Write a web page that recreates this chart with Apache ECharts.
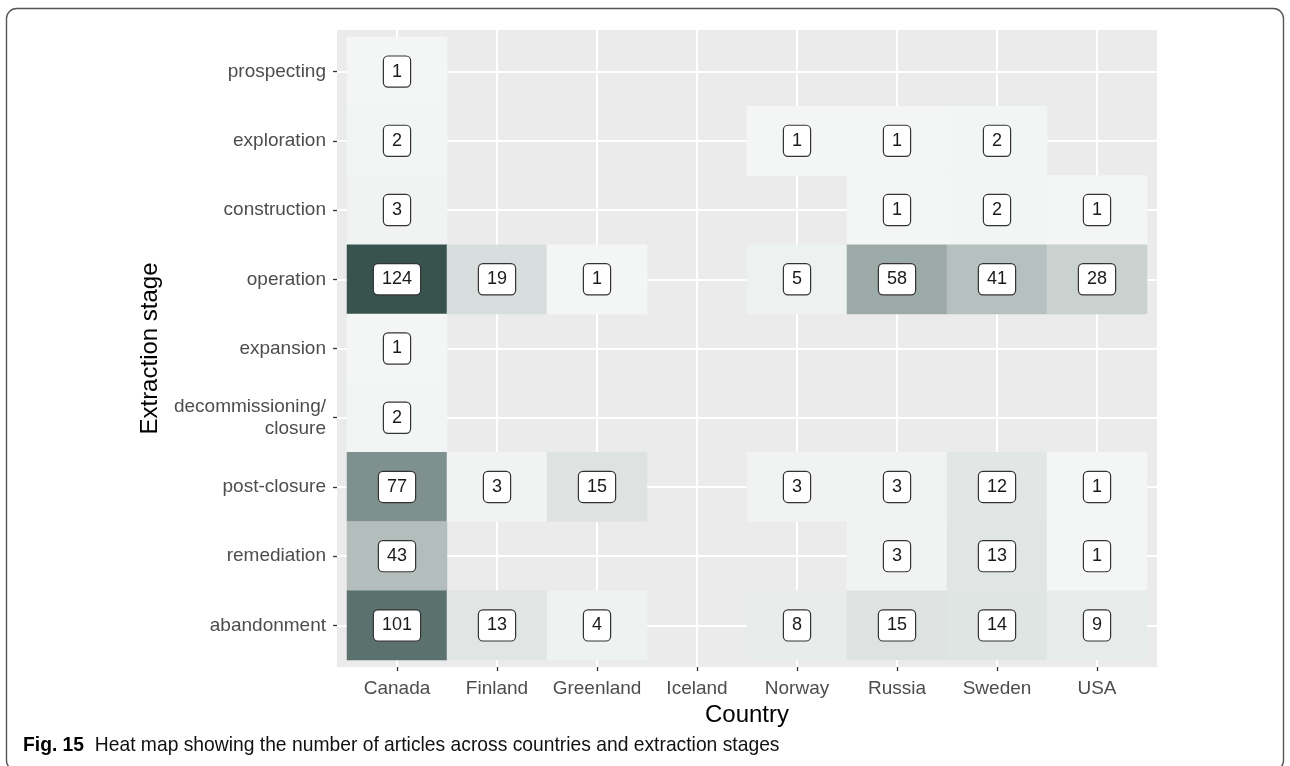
<!DOCTYPE html>
<html>
<head>
<meta charset="utf-8">
<script src="https://cdn.jsdelivr.net/npm/echarts@6/dist/echarts.min.js"></script>
<style>
html,body{margin:0;padding:0;background:#fff;}
#chart{width:1290px;height:766px;}
</style>
</head>
<body>
<div id="chart"></div>
<script>
// ---- data ----
const countries = ['Canada','Finland','Greenland','Iceland','Norway','Russia','Sweden','USA'];
const stages = ['prospecting','exploration','construction','operation','expansion','decommissioning/\nclosure','post-closure','remediation','abandonment'];
// values per country, in stage order (null = no articles)
const canada    = [1, 2, 3, 124, 1, 2, 77, 43, 101];
const finland   = [null, null, null, 19, null, null, 3, null, 13];
const greenland = [null, null, null, 1, null, null, 15, null, 4];
const iceland   = [null, null, null, null, null, null, null, null, null];
const norway    = [null, 1, null, 5, null, null, 3, null, 8];
const russia    = [null, 1, 1, 58, null, null, 3, 3, 15];
const sweden    = [null, 2, 2, 41, null, null, 12, 13, 14];
const usa       = [null, null, 1, 28, null, null, 1, 1, 9];
const valuesByCountry = [canada, finland, greenland, iceland, norway, russia, sweden, usa];

const heatData = [];
valuesByCountry.forEach((col, ci) => {
  col.forEach((v, si) => { if (v !== null) heatData.push([ci, si, v]); });
});

// helper fine-step categories for the panel (0.2 tile units per step, 0.1 expansion each side)
const xSteps = Array.from({length: countries.length * 5 + 2}, (_, i) => String(i));
const ySteps = Array.from({length: stages.length * 5 + 2}, (_, i) => String(i));
const onCenter = (i) => i >= 3 && (i - 3) % 5 === 0;

const FONT = "'Liberation Sans', Arial, Helvetica, sans-serif";
const chart = echarts.init(document.getElementById('chart'), null, {renderer: 'canvas'});
chart.setOption({
  backgroundColor: '#ffffff',
  animation: false,
  textStyle: {fontFamily: FONT},
  grid: [
    {left: 337, top: 30, width: 820, height: 637, show: true, backgroundColor: '#EBEBEB', borderWidth: 0, containLabel: false},
    {left: 347, top: 37, width: 800, height: 623, show: false, containLabel: false}
  ],
  xAxis: [
    {
      type: 'category', gridIndex: 1, data: countries, offset: 7,
      axisLine: {show: false},
      axisTick: {show: true, alignWithLabel: true, length: 4, lineStyle: {color: '#333333', width: 1.3}},
      axisLabel: {color: '#4D4D4D', fontSize: 19, margin: 12, fontFamily: FONT, interval: 0},
      splitLine: {show: false},
      name: 'Country', nameLocation: 'middle', nameGap: 33,
      nameTextStyle: {color: '#000000', fontSize: 24, fontFamily: FONT}
    },
    {
      type: 'category', gridIndex: 0, data: xSteps, boundaryGap: false,
      axisLine: {show: false}, axisTick: {show: false}, axisLabel: {show: false},
      splitLine: {show: true, interval: (i) => onCenter(i), lineStyle: {color: '#ffffff', width: 2}}
    }
  ],
  yAxis: [
    {
      type: 'category', gridIndex: 1, data: stages, inverse: true, offset: 10,
      axisLine: {show: false},
      axisTick: {show: true, alignWithLabel: true, length: 4, lineStyle: {color: '#333333', width: 1.3}},
      axisLabel: {color: '#4D4D4D', fontSize: 19, margin: 11, lineHeight: 22, fontFamily: FONT, interval: 0, align: 'right'},
      splitLine: {show: false},
      name: 'Extraction stage', nameLocation: 'middle', nameGap: 175, nameRotate: 90,
      nameTextStyle: {color: '#000000', fontSize: 24, fontFamily: FONT}
    },
    {
      type: 'category', gridIndex: 0, data: ySteps, boundaryGap: false,
      axisLine: {show: false}, axisTick: {show: false}, axisLabel: {show: false},
      splitLine: {show: true, interval: (i) => onCenter(i), lineStyle: {color: '#ffffff', width: 2}}
    }
  ],
  visualMap: {
    show: false, type: 'continuous', min: 1, max: 124, dimension: 2, seriesIndex: 0,
    inRange: {color: ['#F3F6F5', '#38534E']}
  },
  series: [{
    type: 'heatmap', xAxisIndex: 0, yAxisIndex: 0, data: heatData,
    itemStyle: {borderWidth: 0},
    emphasis: {disabled: true},
    label: {
      show: true, formatter: (p) => String(p.value[2]),
      color: '#1A1A1A', fontSize: 18, fontFamily: FONT, lineHeight: 19,
      backgroundColor: '#ffffff', borderColor: '#333333', borderWidth: 1.2, borderRadius: 4,
      padding: [6, 8, 5, 8]
    }
  }],
  graphic: [
    {type: 'rect', silent: true, z: -1,
     shape: {x: 6.5, y: 8.5, width: 1277, height: 762, r: 10},
     style: {fill: 'none', stroke: '#555555', lineWidth: 1.4}},
    {type: 'text', x: 23, y: 735, scaleX: 0.918, scaleY: 1, silent: true,
     style: {
       text: '{b|Fig. 15}  Heat map showing the number of articles across countries and extraction stages',
       rich: {b: {fontWeight: 'bold', fontSize: 21, fontFamily: FONT, fill: '#000'}},
       fontSize: 21, fontFamily: FONT, fill: '#111'
     }}
  ]
});
</script>
</body>
</html>
